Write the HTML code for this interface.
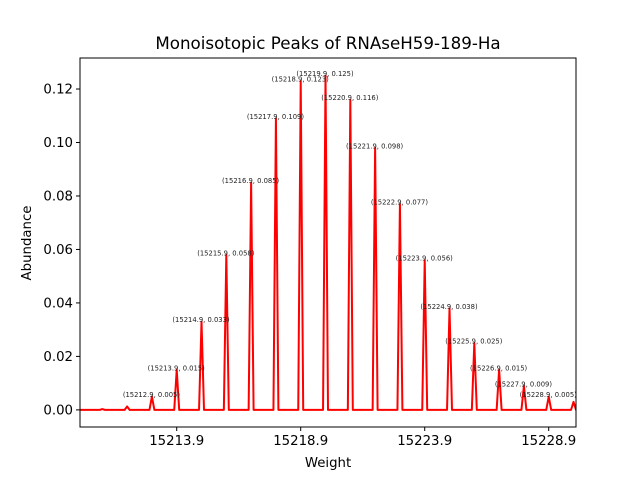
<!DOCTYPE html>
<html><head><meta charset="utf-8"><style>
body{margin:0;background:#fff}
svg text{font-family:"DejaVu Sans","Liberation Sans",sans-serif}
</style></head><body>
<svg id="chart" width="640" height="480" viewBox="0 0 640 480" xmlns="http://www.w3.org/2000/svg">
<rect width="640" height="480" fill="#fff"/>
<text x="328" y="49" font-size="16.7" text-anchor="middle">Monoisotopic Peaks of RNAseH59-189-Ha</text>
<text x="328" y="467" font-size="13.3" text-anchor="middle">Weight</text>
<text x="31" y="243" font-size="13.3" text-anchor="middle" transform="rotate(-90 31 243)">Abundance</text>
<defs><clipPath id="plotclip"><rect x="80" y="58" width="496" height="369"/></clipPath></defs>
<g id="series" clip-path="url(#plotclip)"></g>
<g id="labels"></g>
<g id="axes"></g>
<rect x="80" y="58" width="496" height="369" fill="none" stroke="#000" stroke-width="1"/>
</svg>
<script>
const weights = [15210.9,15211.9,15212.9,15213.9,15214.9,15215.9,15216.9,15217.9,15218.9,15219.9,15220.9,15221.9,15222.9,15223.9,15224.9,15225.9,15226.9,15227.9,15228.9,15229.9];
const weightLabels = ["15210.9","15211.9","15212.9","15213.9","15214.9","15215.9","15216.9","15217.9","15218.9","15219.9","15220.9","15221.9","15222.9","15223.9","15224.9","15225.9","15226.9","15227.9","15228.9","15229.9"];
const abundances = [0.0003,0.0013,0.005,0.015,0.033,0.058,0.085,0.109,0.123,0.125,0.116,0.098,0.077,0.056,0.038,0.025,0.015,0.009,0.005,0.003];
const labeled = [false,false,true,true,true,true,true,true,true,true,true,true,true,true,true,true,true,true,true,false];
const xTicks = [15213.9,15218.9,15223.9,15228.9];
const xTickLabels = ["15213.9","15218.9","15223.9","15228.9"];
const yTicks = [0.00,0.02,0.04,0.06,0.08,0.10,0.12];
const xMin=15210.0, xMax=15230.0, yMin=-0.0064, yMax=0.1316;
const L=80,R=576,T=58,B=427;
const sx=v=>L+(v-xMin)/(xMax-xMin)*(R-L);
const sy=v=>B-(v-yMin)/(yMax-yMin)*(B-T);
const NS="http://www.w3.org/2000/svg";
const series=document.getElementById('series');
let d="M"+sx(xMin)+","+sy(0);
weights.forEach((w,i)=>{
  d+=" L"+sx(w-0.1)+","+sy(0)+" L"+sx(w)+","+sy(abundances[i])+" L"+sx(w+0.1)+","+sy(0);
});
d+=" L"+sx(xMax+0.5)+","+sy(0);
const p=document.createElementNS(NS,'path');


p.setAttribute('d',d);p.setAttribute('fill','none');p.setAttribute('stroke','#ff0000');p.setAttribute('stroke-width','2');p.setAttribute('stroke-linejoin','round');
series.appendChild(p);
const lg=document.getElementById('labels');
weights.forEach((w,i)=>{
  if(!labeled[i])return;
  const t=document.createElementNS(NS,'text');
  
  
  t.setAttribute('x',sx(w)-0.5);t.setAttribute('y',sy(abundances[i])+0.5);
  t.setAttribute('font-size','6.8');t.setAttribute('text-anchor','middle');t.setAttribute('fill','#222');
  t.textContent="("+weightLabels[i]+", "+abundances[i].toFixed(3)+")";
  lg.appendChild(t);
});
const ax=document.getElementById('axes');
xTicks.forEach((v,i)=>{
  const l=document.createElementNS(NS,'line');
  
  
  l.setAttribute('x1',sx(v));l.setAttribute('x2',sx(v));l.setAttribute('y1',B);l.setAttribute('y2',B+4);l.setAttribute('stroke','#000');
  ax.appendChild(l);
  const t=document.createElementNS(NS,'text');
  
  
  t.setAttribute('x',sx(v));t.setAttribute('y',B+18);t.setAttribute('font-size','13.3');t.setAttribute('text-anchor','middle');
  t.textContent=xTickLabels[i];ax.appendChild(t);
});
yTicks.forEach(v=>{
  const l=document.createElementNS(NS,'line');
  
  
  l.setAttribute('x1',L-4);l.setAttribute('x2',L);l.setAttribute('y1',sy(v));l.setAttribute('y2',sy(v));l.setAttribute('stroke','#000');
  ax.appendChild(l);
  const t=document.createElementNS(NS,'text');
  
  
  t.setAttribute('x',L-7);t.setAttribute('y',sy(v)+4.5);t.setAttribute('font-size','13.3');t.setAttribute('text-anchor','end');
  t.textContent=v.toFixed(2);ax.appendChild(t);
});
</script>
</body></html>
